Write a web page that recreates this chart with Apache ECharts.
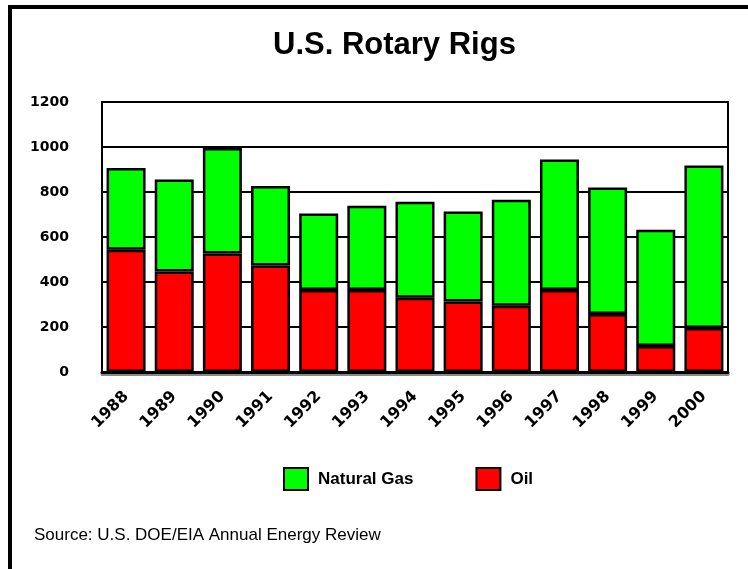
<!DOCTYPE html>
<html>
<head>
    <meta charset="utf-8">
    <title>U.S. Rotary Rigs</title>
    <script src="https://cdn.jsdelivr.net/npm/echarts@6/dist/echarts.min.js"></script>
    <style>
        html, body { margin: 0; padding: 0; background: #fff; }
        #frame {
            position: absolute; left: 8px; top: 5px; right: 0; bottom: 0;
            border-left: 4px solid #000; border-top: 4px solid #000;
        }
        #chart1 { position: absolute; left: 0; top: 0; width: 748px; height: 569px; }
    </style>
</head>
<body>
<div id="frame"></div>
<div id="chart1"></div>
<script type="text/javascript">
    // 数据
    var years = ['1988', '1989', '1990', '1991', '1992', '1993', '1994', '1995', '1996', '1997', '1998', '1999', '2000'];
    var oil = [543, 447, 527, 473, 365, 365, 330, 313, 295, 365, 258, 116, 196];
    var gas = [364, 408, 469, 354, 339, 374, 427, 400, 471, 579, 562, 516, 722];
    var yTicks = [0, 200, 400, 600, 800, 1000, 1200];

    var myChart1 = echarts.init(document.getElementById('chart1'));

    var barStyle = function (c) {
        return { color: c, borderColor: '#000', borderWidth: 2.5 };
    };

    myChart1.setOption({
        animation: false,
        title: [{
            text: 'U.S. Rotary Rigs',
            left: 268,
            top: 25,
            textStyle: { fontFamily: 'Liberation Sans', fontWeight: 'bold', fontSize: 31, color: '#000' }
        }, {
            text: 'Source: U.S. DOE/EIA Annual Energy Review',
            left: 29,
            top: 522,
            textStyle: { fontFamily: 'Liberation Sans', fontWeight: 'normal', fontSize: 17, color: '#000' }
        }],
        legend: {
            data: ['Natural Gas', 'Oil'],
            left: 278,
            top: 462,
            icon: 'rect',
            itemWidth: 24,
            itemHeight: 22,
            itemGap: 62,
            textStyle: { fontFamily: 'Liberation Sans', fontWeight: 'bold', fontSize: 17, color: '#000', padding: [0, 0, 0, 5] }
        },
        grid: {
            left: 102, right: 20, top: 102, bottom: 197,
            show: true, borderColor: '#000', borderWidth: 2
        },
        xAxis: {
            type: 'category',
            data: years,
            axisTick: { show: false },
            axisLine: { lineStyle: { color: '#000', width: 3, shadowColor: '#888', shadowOffsetY: 2, shadowBlur: 0 } },
            axisLabel: {
                rotate: 45, margin: 22, color: '#000',
                fontFamily: 'DejaVu Sans', fontWeight: 'bold', fontSize: 16
            }
        },
        yAxis: {
            type: 'value',
            min: yTicks[0],
            max: yTicks[yTicks.length - 1],
            interval: 200,
            axisLine: { show: false },
            axisTick: { show: false },
            splitLine: { lineStyle: { color: '#000', width: 2 } },
            axisLabel: {
                margin: 33, color: '#000',
                fontFamily: 'DejaVu Sans', fontWeight: 'bold', fontSize: 14,
                formatter: function (v) { return String(v); }
            }
        },
        series: [{
            name: 'Oil',
            type: 'bar',
            stack: 'rigs',
            barCategoryGap: '19%',
            data: oil,
            itemStyle: barStyle('#ff0000')
        }, {
            name: 'Natural Gas',
            type: 'bar',
            stack: 'rigs',
            barCategoryGap: '19%',
            data: gas,
            itemStyle: barStyle('#00ff00')
        }]
    });
</script>
</body>
</html>
